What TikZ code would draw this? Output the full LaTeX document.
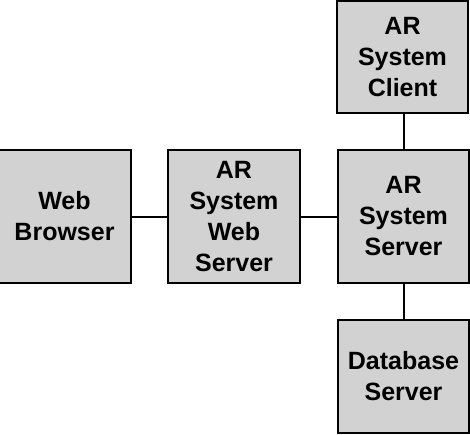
\documentclass[tikz,border=0pt]{standalone}
\usepackage{fontspec}
\setmainfont{Liberation Sans}
\definecolor{boxgray}{RGB}{210,210,210}
\begin{document}
\begin{tikzpicture}[x=1pt,y=1pt,
  blk/.style={draw=black, fill=boxgray, line width=2.5pt, align=center,
    font=\bfseries\fontsize{25}{31}\selectfont, inner sep=0pt},
  conn/.style={draw=black, line width=2pt}]
\useasboundingbox (0,0) rectangle (470,-434);
\node[blk, minimum width=133, minimum height=133] (browser) at (64.5,-216.5) {Web\\Browser};
\node[blk, minimum width=132, minimum height=133] (websrv) at (234,-216.5) {AR\\System\\Web\\Server};
\node[blk, minimum width=131, minimum height=133] (server) at (403.5,-216.5) {AR\\System\\Server};
\node[blk, minimum width=131, minimum height=112] (client) at (402.5,-57) {AR\\System\\Client};
\node[blk, minimum width=131, minimum height=113] (db) at (403.5,-376.5) {Database\\Server};
\draw[conn] (browser.east) -- (websrv.west);
\draw[conn] (websrv.east) -- (server.west);
\draw[conn] (client.south -| server.north) -- (server.north);
\draw[conn] (server.south) -- (db.north);
\end{tikzpicture}
\end{document}
